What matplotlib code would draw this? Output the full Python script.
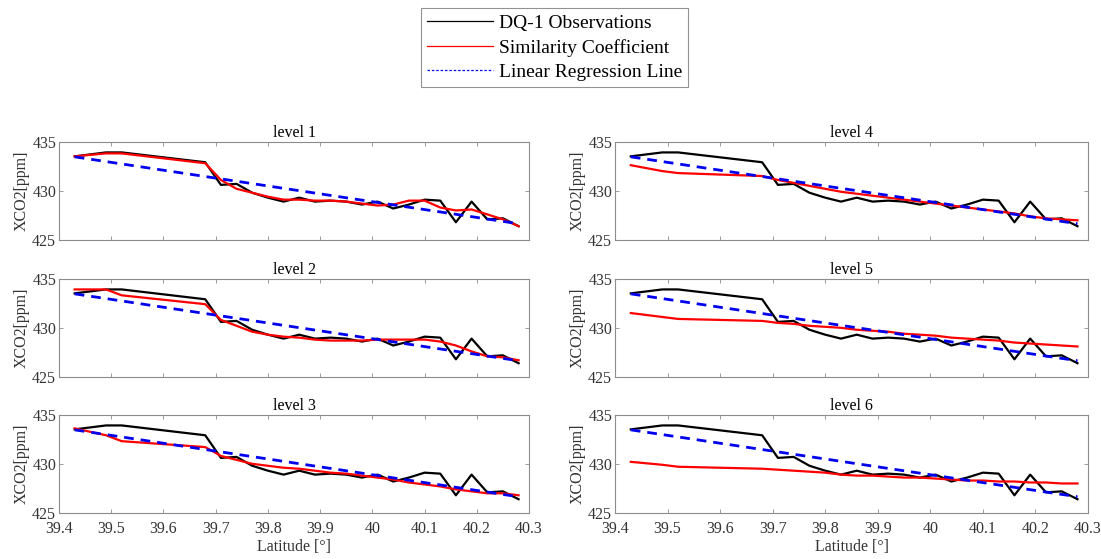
import matplotlib
matplotlib.use('Agg')
import matplotlib.pyplot as plt
from matplotlib.lines import Line2D

plt.rcParams['font.family'] = ['Liberation Serif', 'DejaVu Serif']

# latitude of each observation point
lat = [39.43, 39.49, 39.52, 39.68, 39.71, 39.74, 39.77, 39.80, 39.83, 39.86,
       39.89, 39.92, 39.95, 39.98, 40.01, 40.04, 40.07, 40.10, 40.13, 40.16,
       40.19, 40.22, 40.25, 40.28]

# DQ-1 observations (same in every panel)
obs = [433.5, 433.9, 433.9, 432.9, 430.6, 430.7, 429.8, 429.3, 428.9, 429.3,
       428.9, 429.0, 428.9, 428.6, 428.9, 428.2, 428.6, 429.1, 429.0, 426.8,
       428.9, 427.1, 427.2, 426.4]

# linear regression line end points
reg_lat = [39.43, 40.28]
reg_val = [433.45, 426.65]

# similarity coefficient, one list per level
sim_level1 = [433.5, 433.8, 433.8, 432.8, 431.1, 430.2, 429.8, 429.4, 429.1, 429.1,
              429.0, 429.0, 428.9, 428.7, 428.5, 428.6, 429.0, 429.0, 428.3, 428.0,
              428.1, 427.6, 427.1, 426.4]
sim_level2 = [433.9, 433.9, 433.3, 432.4, 430.8, 430.2, 429.6, 429.3, 429.1, 429.0,
              428.8, 428.7, 428.7, 428.7, 428.8, 428.8, 428.8, 428.8, 428.6, 428.2,
              427.6, 427.1, 427.0, 426.7]
sim_level3 = [433.6, 432.9, 432.3, 431.7, 430.8, 430.4, 430.0, 429.8, 429.6, 429.5,
              429.3, 429.1, 429.0, 428.8, 428.6, 428.4, 428.1, 427.9, 427.7, 427.4,
              427.2, 427.0, 427.0, 426.8]
sim_level4 = [432.6, 432.0, 431.8, 431.5, 431.1, 430.8, 430.5, 430.2, 429.9, 429.7,
              429.5, 429.3, 429.1, 428.9, 428.7, 428.5, 428.3, 428.1, 427.9, 427.7,
              427.4, 427.2, 427.1, 427.0]
sim_level5 = [431.5, 431.1, 430.9, 430.7, 430.5, 430.4, 430.2, 430.1, 430.0, 429.8,
              429.7, 429.6, 429.4, 429.3, 429.2, 429.0, 428.9, 428.8, 428.7, 428.5,
              428.4, 428.3, 428.2, 428.1]
sim_level6 = [430.2, 429.9, 429.7, 429.5, 429.4, 429.3, 429.2, 429.1, 428.9, 428.8,
              428.8, 428.7, 428.6, 428.6, 428.5, 428.4, 428.3, 428.3, 428.2, 428.2,
              428.1, 428.1, 428.0, 428.0]

levels = ['level 1', 'level 2', 'level 3', 'level 4', 'level 5', 'level 6']
sims = [sim_level1, sim_level2, sim_level3, sim_level4, sim_level5, sim_level6]

xticks = [39.4, 39.5, 39.6, 39.7, 39.8, 39.9, 40.0, 40.1, 40.2, 40.3]
xticklabels = ['39.4', '39.5', '39.6', '39.7', '39.8', '39.9', '40', '40.1', '40.2', '40.3']
yticks = [425, 430, 435]

edge = '#8c8c8c'
txt = '#333333'

fig = plt.figure(figsize=(11.01, 5.59), dpi=100)

col_left = [0.0536, 0.5586]
col_width = [0.4269, 0.4296]
row_bottom = [0.5707, 0.3256, 0.0823]
row_height = 0.176

for i in range(6):
    col = i // 3
    row = i % 3
    ax = fig.add_axes([col_left[col], row_bottom[row], col_width[col], row_height])

    ax.plot(lat, obs, color='black', lw=1.6)
    ax.plot(lat, sims[i], color='#ff0000', lw=1.6)
    ax.plot(reg_lat, reg_val, color='#0000ee', lw=2.0, ls=(0, (3.5, 2.5)))

    ax.set_xlim(39.4, 40.3)
    ax.set_ylim(425, 435)
    ax.set_yticks(yticks)
    ax.set_xticks(xticks)
    if row == 2:
        ax.set_xticklabels(xticklabels)
        ax.set_xlabel('Latitude [°]', fontsize=11.5, color=txt, labelpad=2)
    else:
        ax.set_xticklabels([])

    ax.set_title(levels[i], fontsize=11.5, pad=3)
    ax.set_ylabel('XCO2[ppm]', fontsize=11.5, color=txt, labelpad=2)

    ax.tick_params(direction='in', length=3, width=0.6, colors=edge,
                   labelcolor=txt, labelsize=11.5, top=True, right=True, pad=2)
    ax.tick_params(axis='x', pad=5.5)
    for s in ax.spines.values():
        s.set_color(edge)
        s.set_linewidth(0.8)

handles = [
    Line2D([], [], color='black', lw=0.9),
    Line2D([], [], color='#ff0000', lw=0.9),
    Line2D([], [], color='#0000ee', lw=0.9, ls=(0, (2, 1.5))),
]
leg = fig.legend(handles, ['DQ-1 Observations', 'Similarity Coefficient', 'Linear Regression Line'],
                 loc='upper center', bbox_to_anchor=(0.5035, 0.985), fontsize=14,
                 frameon=True, fancybox=False, handlelength=3.4, handletextpad=0.3,
                 labelspacing=0.35, borderpad=0.3, borderaxespad=0)
leg.get_frame().set_edgecolor('#777777')
leg.get_frame().set_linewidth(0.8)

fig.savefig('out.png', dpi=100)
